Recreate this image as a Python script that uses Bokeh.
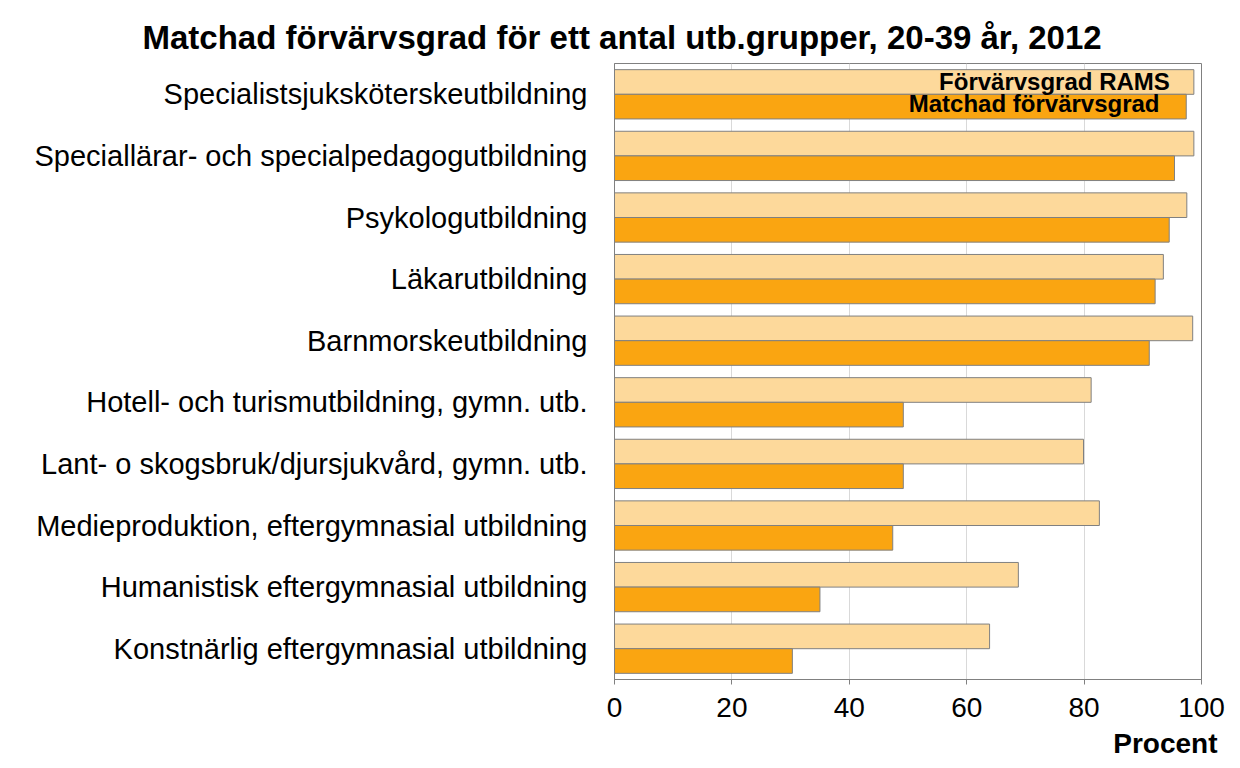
from bokeh.plotting import figure
from bokeh.models import ColumnDataSource, FactorRange, Range1d, Label, FixedTicker, Title
from bokeh.transform import dodge
from bokeh.embed import file_html
from bokeh.resources import INLINE

title_text = "Matchad förvärvsgrad för ett antal utb.grupper, 20-39 år, 2012"
categories = [
    "Specialistsjuksköterskeutbildning",
    "Speciallärar- och specialpedagogutbildning",
    "Psykologutbildning",
    "Läkarutbildning",
    "Barnmorskeutbildning",
    "Hotell- och turismutbildning, gymn. utb.",
    "Lant- o skogsbruk/djursjukvård, gymn. utb.",
    "Medieproduktion, eftergymnasial utbildning",
    "Humanistisk eftergymnasial utbildning",
    "Konstnärlig eftergymnasial utbildning",
]
rams = [98.7, 98.7, 97.5, 93.5, 98.5, 81.2, 79.9, 82.6, 68.8, 63.9]
matched = [97.4, 95.4, 94.5, 92.1, 91.1, 49.2, 49.2, 47.4, 35.0, 30.3]
series_names = ["Förvärvsgrad RAMS", "Matchad förvärvsgrad"]
x_ticks = [0, 20, 40, 60, 80, 100]
x_label = "Procent"

FONT = "Liberation Sans"
GRAY = "#808080"

src = ColumnDataSource(dict(cat=categories, rams=rams, matched=matched))

p = figure(
    frame_width=587, frame_height=616,
    y_range=FactorRange(factors=list(reversed(categories)), range_padding=0),
    x_range=Range1d(0, 100),
    output_backend="svg", toolbar_location=None,
    min_border_left=614, min_border_right=29, min_border_top=63, min_border_bottom=40,
)

# chart title, left-aligned with a negative offset so it sits centred on the page
p.title.text = title_text
p.title.text_font = FONT
p.title.text_font_size = "33px"
p.title.text_font_style = "bold"
p.title.text_color = "black"
p.title.align = "left"
p.title.offset = -472
p.title.standoff = 15

p.hbar(y=dodge("cat", 0.2, range=p.y_range), left=0, right="rams", height=0.4,
       source=src, fill_color="#FDD99B", line_color=GRAY, line_width=1)
p.hbar(y=dodge("cat", -0.2, range=p.y_range), left=0, right="matched", height=0.4,
       source=src, fill_color="#FAA511", line_color=GRAY, line_width=1)

p.outline_line_color = GRAY
p.outline_line_width = 1
p.ygrid.grid_line_color = None
p.xgrid.grid_line_color = "#D9D9D9"
p.xgrid.ticker = FixedTicker(ticks=x_ticks)

xa = p.xaxis[0]
xa.ticker = FixedTicker(ticks=x_ticks)
xa.axis_line_color = GRAY
xa.major_tick_line_color = GRAY
xa.major_tick_out = 5
xa.major_tick_in = 0
xa.minor_tick_line_color = None
xa.major_label_text_font = FONT
xa.major_label_text_font_size = "28px"
xa.major_label_text_color = "black"
xa.major_label_standoff = 13

ya = p.yaxis[0]
ya.axis_line_color = GRAY
ya.major_tick_line_color = None
ya.major_tick_out = 0
ya.major_tick_in = 0
ya.minor_tick_line_color = None
ya.major_label_text_font = FONT
ya.major_label_text_font_size = "29px"
ya.major_label_text_color = "black"
ya.major_label_standoff = 27

# x-axis title at bottom right
p.add_layout(Title(text=x_label, align="right", offset=-16, standoff=12,
                   text_font=FONT, text_font_size="28px", text_font_style="bold",
                   text_color="black"), "below")

# legend-like labels inside the first bars
p.add_layout(Label(x=94.6, y=9.71, text=series_names[0], text_align="right",
                   text_baseline="alphabetic", text_font=FONT, text_font_size="24px",
                   text_font_style="bold", text_color="black"))
p.add_layout(Label(x=92.85, y=9.35, text=series_names[1], text_align="right",
                   text_baseline="alphabetic", text_font=FONT, text_font_size="24px",
                   text_font_style="bold", text_color="black"))

open("out.html", "w").write(file_html(p, INLINE))
